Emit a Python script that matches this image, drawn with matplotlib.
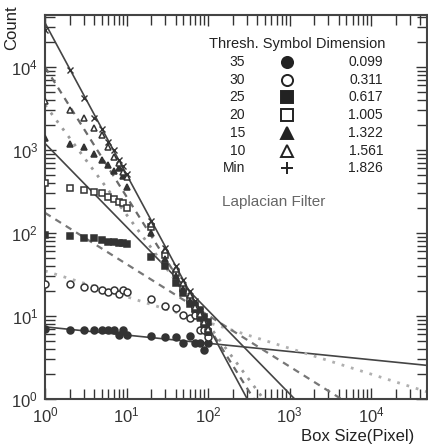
import matplotlib
matplotlib.use("Agg")
import matplotlib.pyplot as plt
import numpy as np

plt.rcParams["font.family"] = ["Liberation Sans", "DejaVu Sans"]

# box sizes (pixel)
box = [1, 2, 3, 4, 5, 6, 7, 8, 9, 10, 20, 30, 40, 50, 60, 70, 80, 90, 100]

# counts per threshold
cnt_35 = [7.0, 6.8, 6.8, 6.8, 6.8, 6.8, 6.8, 5.9, 6.8, 5.9,
          5.8, 5.6, 5.6, 4.7, 5.8, 4.7, 4.7, 3.9, 4.7]
cnt_30 = [24, 24, 22.5, 21.5, 20.5, 19.5, 20.5, 18.5, 20.5, 19.5,
          16, 13.3, 12.5, 10.3, 9.4, 10.3, 6.8, 6.8, 5.6]
cnt_25 = [95, 92, 88, 86, 82, 78, 77, 76, 75, 73,
          51, 40, 25, 19, 14, 13.5, 11.8, 9.8, 8.5]
cnt_20 = [400, 350, 330, 310, 300, 273, 257, 237, 227, 201,
          118, 55, 33, 22, 16, 12, 10, 8, 6.5]
cnt_15 = [1390, 1180, 1090, 890, 760, 660, 560, 600, 490, 355,
          100, 48, 30, 21, 15, 12, 9.5, 8, 6.5]
cnt_10 = [3900, 3000, 2400, 1850, 1500, 1090, 820, 700, 540, 470,
          130, 62, 37, 25, 18, 13, 10.5, 8.5, 7]
cnt_min = [28000, 9100, 4200, 2450, 1800, 1250, 1000, 760, 640, 520,
           140, 66, 40, 27, 20, 15, 11.5, 9.5, 7.5]

thresh = ["35", "30", "25", "20", "15", "10", "Min"]
dimension = [0.099, 0.311, 0.617, 1.005, 1.322, 1.561, 1.826]
# fit-line value at box size 1
intercept = [7.4, 35, 175, 1200, 3500, 10000, 34000]

series = [cnt_35, cnt_30, cnt_25, cnt_20, cnt_15, cnt_10, cnt_min]
markers = ["o", "o", "s", "s", "^", "^", "x"]
filled = [True, False, True, False, True, False, True]
line_styles = [
    dict(color="#444444", ls="-", lw=1.2),
    dict(color="#b0b0b0", ls=(0, (1, 2.5)), lw=2.0),
    dict(color="#777777", ls=(0, (3, 2.5)), lw=1.6),
    dict(color="#444444", ls="-", lw=1.2),
    dict(color="#9a9a9a", ls=(0, (1, 2.5)), lw=2.0),
    dict(color="#6a6a6a", ls=(0, (3, 2.5)), lw=1.6),
    dict(color="#444444", ls="-", lw=1.2),
]

W, H = 428, 445
fig = plt.figure(figsize=(W / 100, H / 100), dpi=100)
ax = fig.add_axes([45 / W, 1 - 399 / H, 382 / W, 384 / H])

xmin, xmax = 1, 10 ** 4.687
ymin, ymax = 1, 10 ** 4.627

ends = np.array([xmin, xmax])
for a, d, st in zip(intercept, dimension, line_styles):
    ax.plot(ends, a * ends ** (-d), **st, zorder=2)

for y, m, f in zip(series, markers, filled):
    if m == "x":
        ax.plot(box, y, ls="none", marker="x", ms=5, mew=1.0, color="#333333", zorder=3)
    else:
        ax.plot(box, y, ls="none", marker=m, ms=5, mew=1.1,
                mec="#333333", mfc="#333333" if f else "white", zorder=3)

ax.set_xscale("log")
ax.set_yscale("log")
ax.set_xlim(xmin, xmax)
ax.set_ylim(ymin, ymax)

ax.set_xticks([1, 10, 100, 1000, 10000])
ax.set_xticklabels([r"$\mathregular{10^{%d}}$" % k for k in range(5)])
ax.set_yticks([1, 10, 100, 1000, 10000])
ax.set_yticklabels([r"$\mathregular{10^{%d}}$" % k for k in range(5)])
ax.tick_params(which="both", direction="in", top=True, right=True,
               labelsize=12, colors="#333333")
ax.tick_params(which="major", length=8, width=1.0, pad=5)
ax.tick_params(which="minor", length=7, width=1.0)
for s in ax.spines.values():
    s.set_linewidth(1.5)
    s.set_color("#444444")

fig.text(12 / W, 1 - 5 / H, "Count", rotation=90, ha="center", va="top",
         fontsize=12, color="#222222")
fig.text(358 / W, 1 - 436 / H, "Box Size(Pixel)", ha="center", va="center",
         fontsize=12, color="#222222")

# legend table
fig.text(297 / W, 1 - 44 / H, "Thresh. Symbol Dimension", ha="center",
         va="center", fontsize=10.5, color="#222222")
row_y = [62, 80, 97, 115, 133, 151, 168]
for t, d, m, f, ry in zip(thresh, dimension, markers, filled, row_y):
    fig.text(245 / W, 1 - ry / H, t, ha="right", va="center", fontsize=10, color="#222222")
    fig.text(383 / W, 1 - ry / H, "%.3f" % d, ha="right", va="center", fontsize=10,
             color="#222222")
    mk = "+" if m == "x" else m
    ax.plot([287 / W], [1 - ry / H], transform=fig.transFigure, clip_on=False,
            ls="none", marker=mk, ms=8 if mk != "+" else 9, mew=1.4,
            mec="#222222", mfc="#222222" if f else "white", color="#222222")

fig.text(274 / W, 1 - 202 / H, "Laplacian Filter", ha="center", va="center",
         fontsize=11, color="#666666")

fig.savefig("out.png", dpi=100)
